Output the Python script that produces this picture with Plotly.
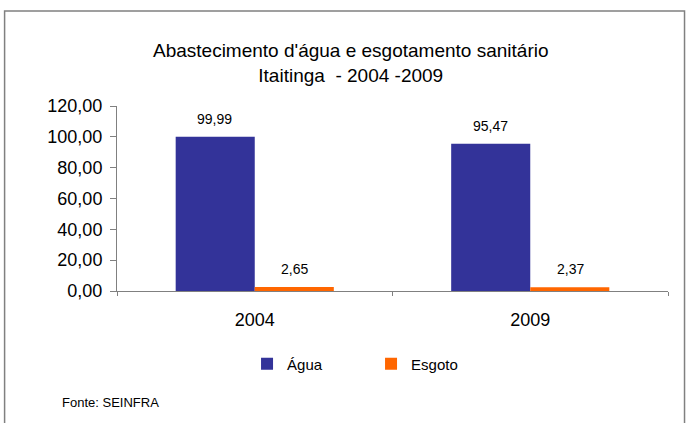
import plotly.graph_objects as go

# Dados do gráfico
anos = ["2004", "2009"]
agua = [99.99, 95.47]
esgoto = [2.65, 2.37]

fig = go.Figure()
fig.add_trace(go.Bar(x=anos, y=agua, name="Água", marker_color="#333399",
                     marker_line_width=0))
fig.add_trace(go.Bar(x=anos, y=esgoto, name="Esgoto", marker_color="#FF6600",
                     marker_line_width=0))

fig.update_layout(
    width=686, height=423,
    margin=dict(l=117, r=18, t=106, b=132, autoexpand=False),
    paper_bgcolor="white", plot_bgcolor="white",
    font=dict(family="Liberation Sans, Arial, sans-serif", color="#000000"),
    separators=",.",
    barmode="group", bargap=0.426, bargroupgap=0,
    showlegend=True,
    legend=dict(orientation="h", x=0.236, xanchor="left", y=-0.395, yanchor="middle",
                font=dict(size=15), itemwidth=30, entrywidth=79,
                tracegroupgap=0),
)

fig.update_yaxes(range=[0, 120], dtick=20, tickformat=".2f", showgrid=False,
                 showline=True, linecolor="#808080", linewidth=1,
                 ticks="outside", ticklen=6, tickcolor="#808080",
                 ticklabelstandoff=4,
                 tickfont=dict(size=18), zeroline=False)
fig.update_xaxes(type="category", range=[-0.5, len(anos) - 0.5],
                 showline=True, linecolor="#808080", linewidth=1,
                 ticks="outside", tickson="boundaries", ticklen=4, tickcolor="#808080",
                 ticklabelstandoff=12,
                 tickfont=dict(size=18))

# Rótulos de dados (x = índice da categoria)
for serie, deslocamento in ((agua, -40), (esgoto, 40)):
    for i, valor in enumerate(serie):
        fig.add_annotation(x=i, y=valor, text=f"{valor:.2f}".replace(".", ","),
                           xshift=deslocamento, yshift=18, showarrow=False,
                           yanchor="middle", font=dict(size=14))

# Título
fig.add_annotation(text="Abastecimento d'água e esgotamento sanitário<br>Itaitinga  - 2004 -2009",
                   xref="paper", yref="paper", x=0.425, y=1.235, showarrow=False,
                   font=dict(size=19), align="center", yanchor="middle")

# Fonte
fig.add_annotation(text="Fonte: SEINFRA", xref="paper", yref="paper",
                   x=-0.104, y=-0.6, xanchor="left", yanchor="middle",
                   showarrow=False, font=dict(size=13))

# Moldura externa
fig.add_shape(type="rect", xref="paper", yref="paper",
              x0=-0.204, x1=1.03, y0=-0.75, y1=1.514,
              line=dict(color="#808080", width=1.5))

# sem a margem padrão do body
fig.write_html("out.html", config={"displayModeBar": False},
               post_script="document.body.style.margin='0';")
